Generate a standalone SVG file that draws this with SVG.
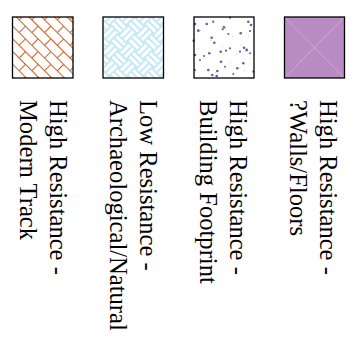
<svg xmlns="http://www.w3.org/2000/svg" width="360" height="351" viewBox="0 0 360 351">
  <style>
    .box { stroke: #000; stroke-width: 1.3; }
    .lbl { font-family: "Liberation Serif", "Times New Roman", serif; font-size: 24.6px; fill: #000; }
  </style>
  <defs>
    <pattern id="brick" width="18" height="18" patternUnits="userSpaceOnUse" patternTransform="rotate(45)">
      <rect width="18" height="18" fill="#fff"/>
      <g stroke="#c9682e" stroke-width="1.1" fill="none">
        <line x1="0" y1="0.5" x2="18" y2="0.5"/>
        <line x1="0" y1="9.5" x2="18" y2="9.5"/>
        <line x1="0.5" y1="0" x2="0.5" y2="9.5"/>
        <line x1="9.5" y1="9.5" x2="9.5" y2="18"/>
      </g>
    </pattern>
    <pattern id="weave" width="24" height="24" patternUnits="userSpaceOnUse" patternTransform="rotate(45)">
      <rect width="24" height="24" fill="#fff"/>
      <g stroke="#9ad8f0" stroke-width="1.1" fill="none">
        <line x1="0" y1="1" x2="12" y2="1"/>
        <line x1="0" y1="6" x2="12" y2="6"/>
        <line x1="0" y1="11" x2="12" y2="11"/>
        <line x1="12" y1="13" x2="24" y2="13"/>
        <line x1="12" y1="18" x2="24" y2="18"/>
        <line x1="12" y1="23" x2="24" y2="23"/>
        <line x1="13" y1="0" x2="13" y2="12"/>
        <line x1="18" y1="0" x2="18" y2="12"/>
        <line x1="23" y1="0" x2="23" y2="12"/>
        <line x1="1" y1="12" x2="1" y2="24"/>
        <line x1="6" y1="12" x2="6" y2="24"/>
        <line x1="11" y1="12" x2="11" y2="24"/>
      </g>
    </pattern>
  </defs>

  <g id="item-modern-track">
    <rect class="box" x="12.5" y="17" width="60.5" height="61" fill="url(#brick)"/>
    <text class="lbl" transform="translate(49.5,100) rotate(90)"><tspan x="0" y="0">High Resistance -</tspan><tspan x="0" y="29.5">Modern Track</tspan></text>
  </g>

  <g id="item-archaeological">
    <rect class="box" x="103" y="17" width="60.5" height="61" fill="url(#weave)"/>
    <text class="lbl" transform="translate(139.5,100) rotate(90)"><tspan x="0" y="0">Low Resistance -</tspan><tspan x="0" y="29.5">Archaeological/Natural</tspan></text>
  </g>

  <g id="item-building-footprint">
    <rect x="194" y="17" width="60" height="61" fill="#fff"/>
    <g fill="#d0d0e8">
      <rect x="200" y="30" width="1" height="1"/><rect x="210" y="40" width="1" height="1"/>
      <rect x="225" y="28" width="1" height="1"/><rect x="240" y="45" width="1" height="1"/>
      <rect x="205" y="58" width="1" height="1"/><rect x="230" y="62" width="1" height="1"/>
      <rect x="248" y="35" width="1" height="1"/><rect x="215" y="72" width="1" height="1"/>
      <rect x="236" y="54" width="1" height="1"/><rect x="198" y="48" width="1" height="1"/>
      <rect x="222" y="46" width="1" height="1"/><rect x="244" y="70" width="1" height="1"/>
      <rect x="212" y="22" width="1" height="1"/><rect x="232" y="36" width="1" height="1"/>
      <rect x="250" y="58" width="1" height="1"/><rect x="203" y="66" width="1" height="1"/>
    </g>
    <g fill="#5f5fb0">
      <circle cx="195" cy="24" r="1.3"/><circle cx="206.7" cy="24" r="1.3"/>
      <circle cx="213.3" cy="21.7" r="1.1"/><circle cx="230" cy="17.7" r="1.1"/>
      <circle cx="248.3" cy="21.7" r="1.3"/><circle cx="251" cy="25" r="1.3"/>
      <circle cx="198.3" cy="30.7" r="1.4"/><circle cx="224" cy="27.3" r="1.3"/>
      <circle cx="222.7" cy="29.3" r="1.1"/><circle cx="240.7" cy="33.3" r="1.3"/>
      <circle cx="250" cy="31" r="1.1"/><circle cx="228.3" cy="34" r="1.1"/>
      <circle cx="211.7" cy="37.7" r="1.3"/><circle cx="193.7" cy="40.7" r="1.3"/>
      <circle cx="214.3" cy="42.7" r="1.3"/><circle cx="230" cy="48.3" r="1.1"/>
      <circle cx="220.7" cy="51.7" r="1.3"/><circle cx="226" cy="50.7" r="1.1"/>
      <circle cx="244" cy="47.7" r="1.3"/><circle cx="246.7" cy="50" r="1.4"/>
      <circle cx="209.3" cy="53.3" r="1.3"/><circle cx="195" cy="55" r="1.3"/>
      <circle cx="204" cy="56" r="1.1"/><circle cx="240" cy="51.7" r="1.1"/>
      <circle cx="221" cy="61.7" r="1.3"/><circle cx="243.3" cy="63.3" r="1.3"/>
      <circle cx="225" cy="66.7" r="1"/><circle cx="237.3" cy="68.3" r="1.3"/>
      <circle cx="208.3" cy="70" r="1.3"/><circle cx="217.3" cy="71" r="1.3"/>
      <circle cx="212.3" cy="75" r="1.3"/><circle cx="216.7" cy="76" r="1.3"/>
      <circle cx="195" cy="70" r="1.1"/><circle cx="253.3" cy="71.7" r="1.1"/>
      <circle cx="233.3" cy="74" r="1"/><circle cx="200" cy="60" r="1"/>
      <circle cx="250" cy="53.3" r="1"/>
    </g>
    <rect class="box" x="194" y="17" width="60" height="61" fill="none"/>
    <text class="lbl" transform="translate(229.5,100) rotate(90)"><tspan x="0" y="0">High Resistance -</tspan><tspan x="0" y="29.5">Building Footprint</tspan></text>
  </g>

  <g id="item-walls-floors">
    <rect x="284.5" y="17" width="60" height="61" fill="#b98bc3"/>
    <g stroke="#d6b0de" stroke-width="0.8">
      <line x1="284.5" y1="17" x2="344.5" y2="78"/>
      <line x1="344.5" y1="17" x2="284.5" y2="78"/>
    </g>
    <rect class="box" x="284.5" y="17" width="60" height="61" fill="none"/>
    <text class="lbl" transform="translate(319.5,100) rotate(90)"><tspan x="0" y="0">High Resistance -</tspan><tspan x="0" y="29.5">?Walls/Floors</tspan></text>
  </g>

  <g id="connectors"/>
</svg>
